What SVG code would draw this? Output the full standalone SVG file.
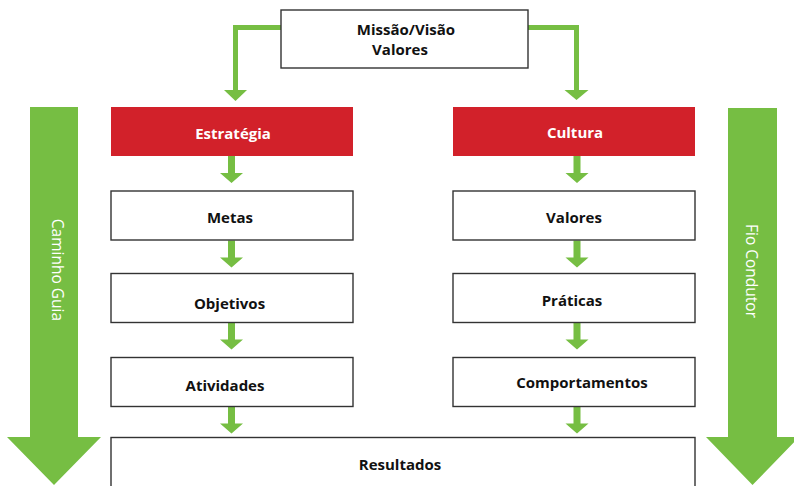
<svg xmlns="http://www.w3.org/2000/svg" width="794" height="486" viewBox="0 0 794 486">
<style>
.box{fill:#fff;stroke:#333;stroke-width:1.4}
.red{fill:#D2212A}
.t{font-family:"Open Sans","Liberation Sans",sans-serif;font-weight:700;font-size:15px;fill:#111;text-anchor:middle}
.tw{fill:#fff}
.v{font-family:"Open Sans","Liberation Sans",sans-serif;font-size:15.5px;fill:#fff;text-anchor:middle}
.g{fill:#76BE43}
.ln{fill:none;stroke:#76BE43;stroke-width:5}
</style>
<defs>
<path id="sa" d="M-3.5,0 H3.5 V17 H11.5 L0,27 L-11.5,17 H-3.5 Z"/>
</defs>
<rect width="794" height="486" fill="#fff"/>

<g id="caminho-guia">
<path class="g" d="M30,107 H78 V437 H101 L54,485 L7,437 H30 Z"/>
<text class="v" transform="translate(57,270) rotate(90)" dy="5">Caminho Guia</text>
</g>
<g id="fio-condutor">
<path class="g" d="M728,108 H777 V437 H799 L752.5,485 L706,437 H728 Z"/>
<text class="v" transform="translate(751,271) rotate(90)" dy="5">Fio Condutor</text>
</g>

<g id="connectors">
<path class="ln" d="M281,27.5 H235.5 V91"/>
<path class="g" d="M224,90 H247 L235.5,101 Z"/>
<path class="ln" d="M528,27.5 H576.5 V91"/>
<path class="g" d="M564.5,90 H588.5 L576.5,100 Z"/>
<use href="#sa" class="g" x="231.5" y="156"/>
<use href="#sa" class="g" x="231.5" y="240.5"/>
<use href="#sa" class="g" x="231.5" y="322.5"/>
<use href="#sa" class="g" x="231.5" y="406.5"/>
<use href="#sa" class="g" x="577" y="156"/>
<use href="#sa" class="g" x="577" y="240.5"/>
<use href="#sa" class="g" x="577" y="322.5"/>
<use href="#sa" class="g" x="577" y="406.5"/>
</g>

<g id="missao">
<rect class="box" x="281" y="10" width="247" height="58"/>
<text class="t" x="406" y="35">Missão/Visão</text>
<text class="t" x="400" y="55">Valores</text>
</g>

<g id="estrategia">
<rect class="red" x="111" y="107" width="242" height="49"/>
<text class="t tw" x="233" y="139">Estratégia</text>
</g>
<g id="metas">
<rect class="box" x="111" y="191" width="242" height="49"/>
<text class="t" x="230" y="223">Metas</text>
</g>
<g id="objetivos">
<rect class="box" x="111" y="273.5" width="242" height="49"/>
<text class="t" x="229.5" y="309">Objetivos</text>
</g>
<g id="atividades">
<rect class="box" x="111" y="357.5" width="242" height="49"/>
<text class="t" x="225" y="390.5">Atividades</text>
</g>

<g id="cultura">
<rect class="red" x="453" y="107" width="242" height="49"/>
<text class="t tw" x="575" y="138">Cultura</text>
</g>
<g id="valores">
<rect class="box" x="453" y="191" width="242" height="49"/>
<text class="t" x="574" y="223">Valores</text>
</g>
<g id="praticas">
<rect class="box" x="453" y="273.5" width="242" height="49"/>
<text class="t" x="572" y="306">Práticas</text>
</g>
<g id="comportamentos">
<rect class="box" x="453" y="357.5" width="242" height="49"/>
<text class="t" x="582" y="388">Comportamentos</text>
</g>

<g id="resultados">
<rect class="box" x="111" y="437.5" width="584" height="60"/>
<text class="t" x="400" y="470">Resultados</text>
</g>
</svg>
